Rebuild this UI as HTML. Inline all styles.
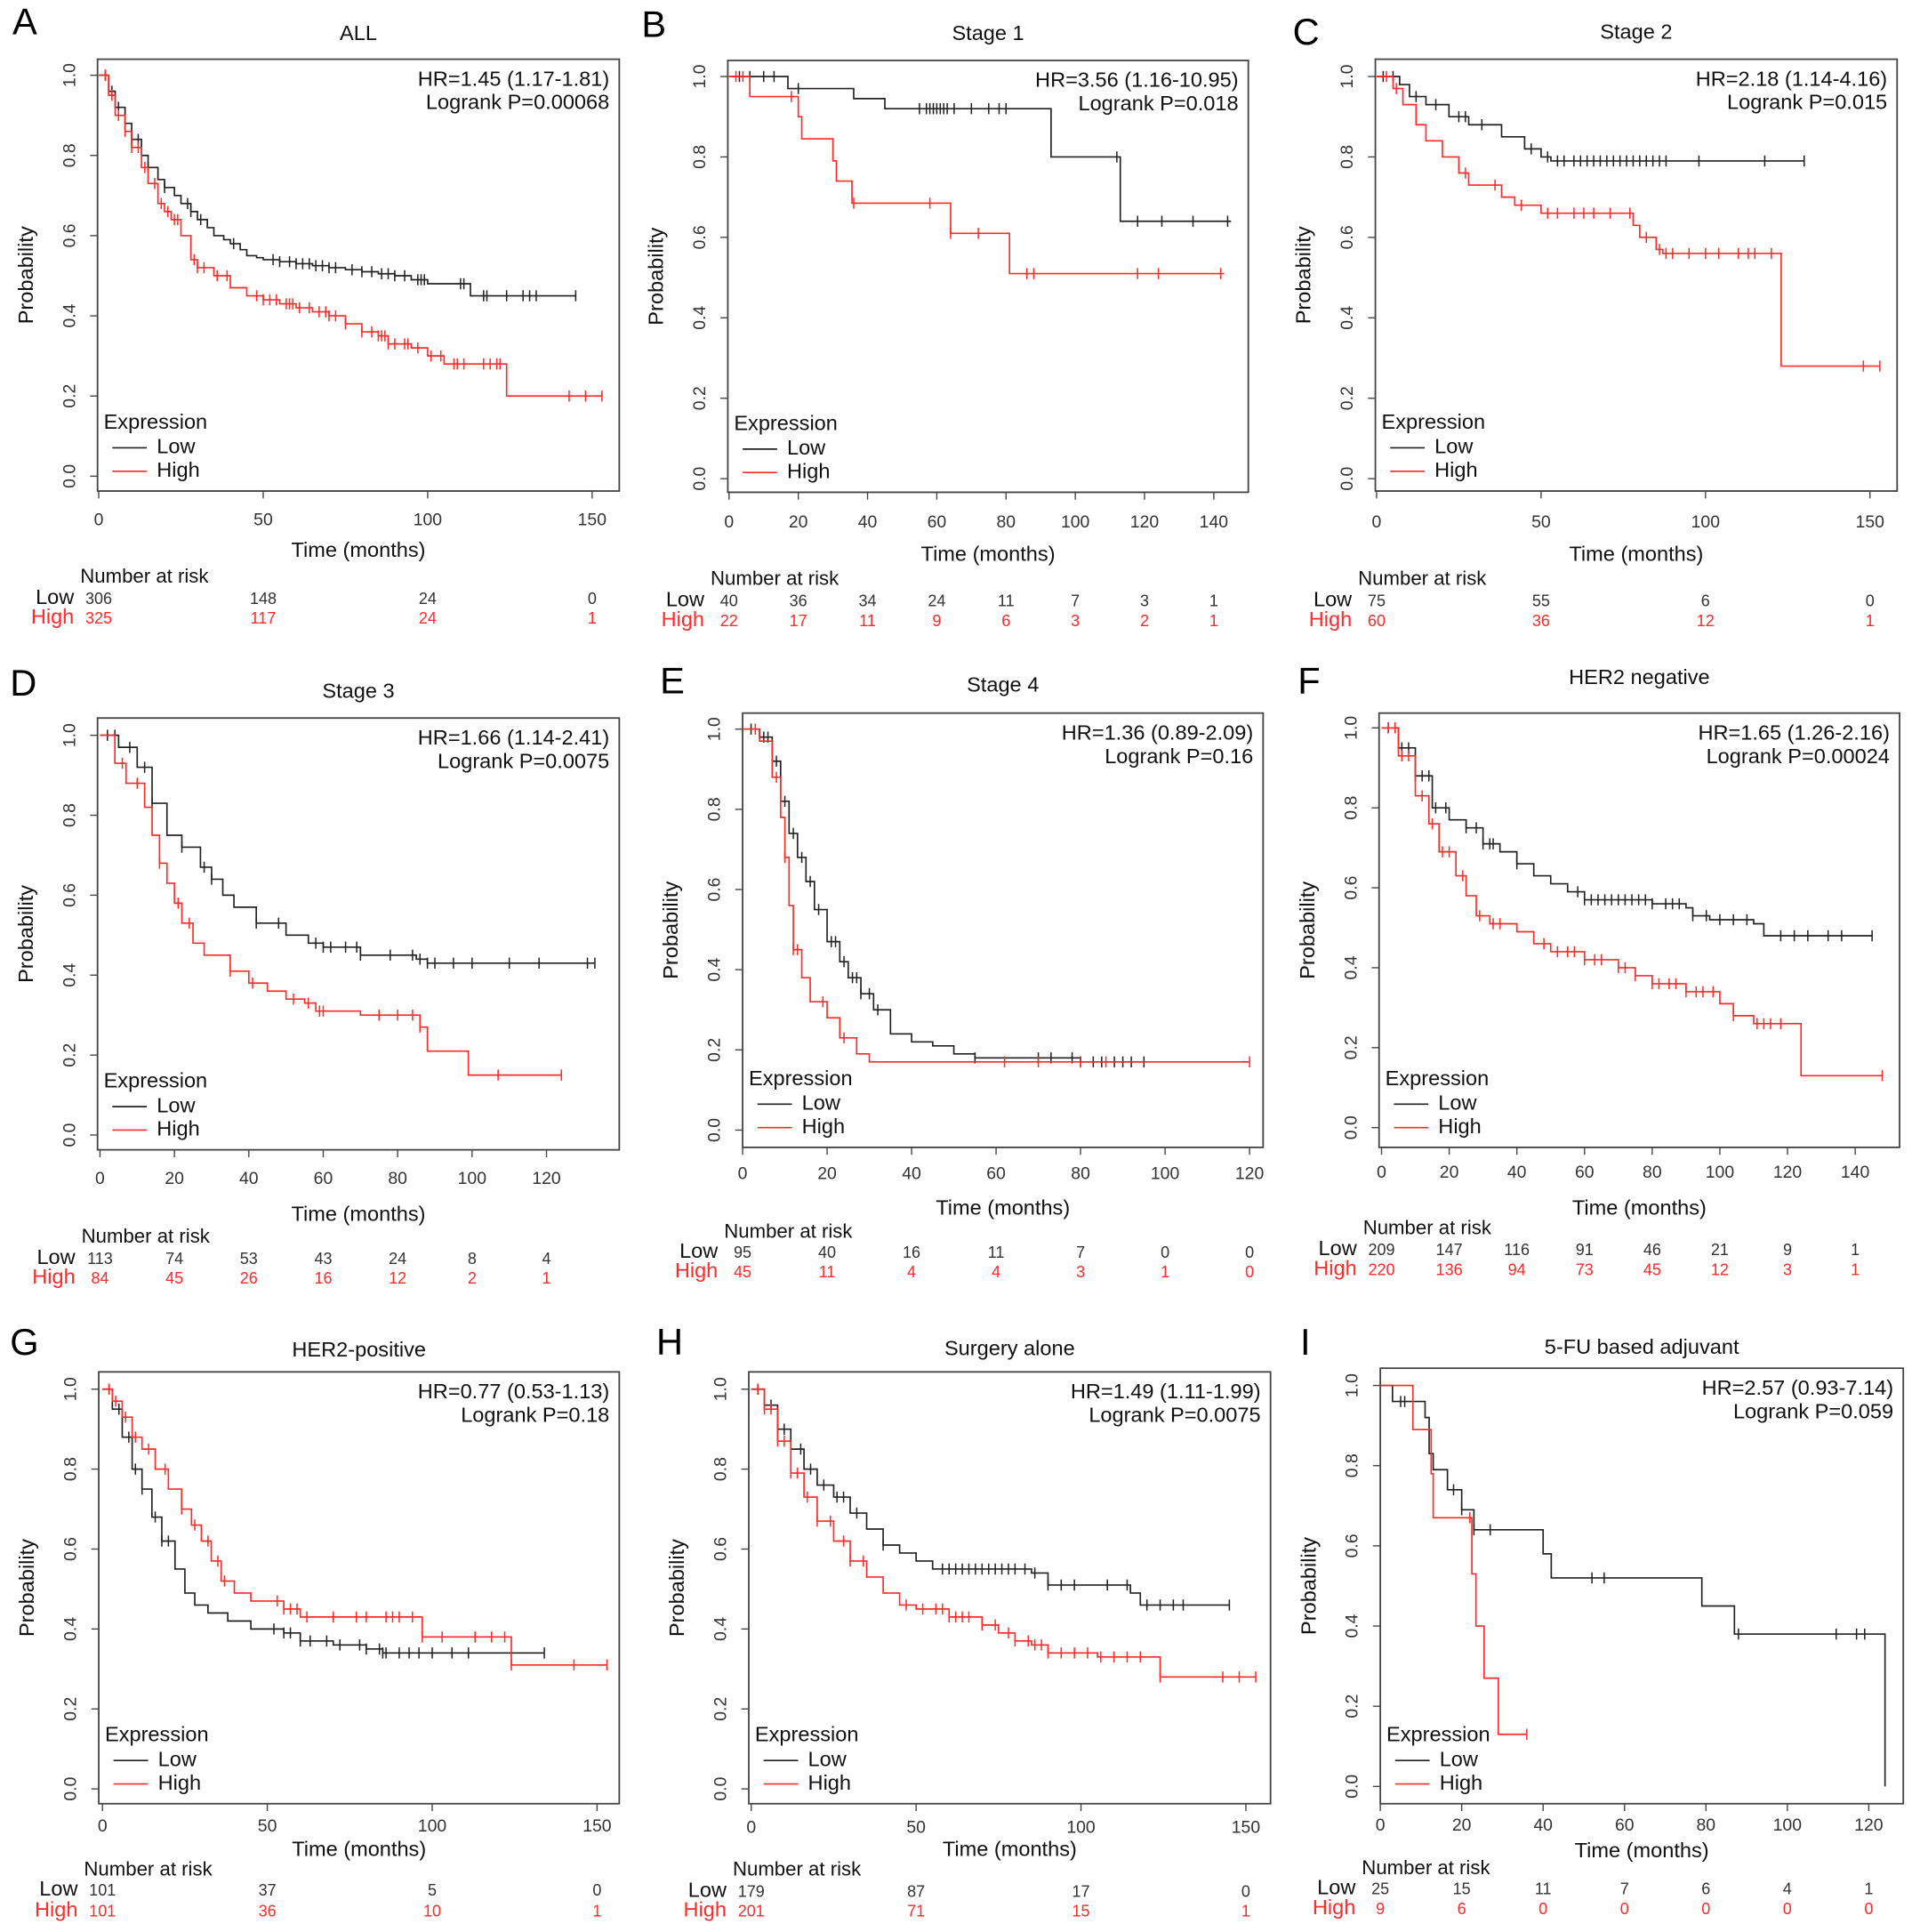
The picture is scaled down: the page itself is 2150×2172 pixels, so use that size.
<!DOCTYPE html>
<html><head><meta charset="utf-8">
<style>
html,body{margin:0;padding:0;background:#fff;}
svg{display:block;font-family:"Liberation Sans",sans-serif;}
</style></head>
<body>
<svg id="fig" xmlns="http://www.w3.org/2000/svg" width="2150" height="2172" viewBox="0 0 1550 1566"></svg>
<script>
// ---------- DATA ----------
const A_low_t=[0,3,5,8,10,13,15,18,20,23,25,28,30,33,35,38,40,43,45,48,50,55,60,65,70,75,80,85,90,95,100,113,145];
const A_low_s=[1,0.96,0.92,0.88,0.84,0.80,0.77,0.74,0.72,0.70,0.68,0.66,0.64,0.62,0.60,0.59,0.58,0.565,0.55,0.545,0.54,0.535,0.53,0.525,0.52,0.515,0.51,0.505,0.50,0.49,0.48,0.45,0.45];
const A_low_c=[2,4,6,8,10,12,15,20,27,28,31,41,53,55,58,60,62,64,66,68,70,72,77,80,83,86,88,90,93,97,98,99,110,111,117,118,124,129,131,133,145];
const A_high_t=[0,3,5,8,10,13,15,18,20,22,25,28,30,35,40,45,50,55,60,65,70,75,80,85,88,95,100,105,124,153];
const A_high_s=[1,0.95,0.90,0.86,0.82,0.77,0.73,0.68,0.66,0.64,0.60,0.54,0.52,0.50,0.47,0.45,0.44,0.43,0.42,0.41,0.40,0.38,0.36,0.35,0.33,0.32,0.30,0.28,0.20,0.20];
const A_high_c=[2,4,6,8,10,12,14,17,19,21,23,24,29,30,32,36,39,48,50,52,54,57,58,59,61,64,67,69,70,72,75,80,83,85,86,87,88,90,93,94,97,101,104,108,109,111,117,119,121,122,143,148,153];

const B_low_t=[0,17,36,45,93,113,145];
const B_low_s=[1,0.97,0.945,0.92,0.80,0.64,0.64];
const B_low_c=[3,6,10,13,20,55,57,58,59,60,61,62,63,65,70,75,78,80,112,118,125,134,144];
const B_high_t=[0,6,20,21,30,31,35.5,64,81,143];
const B_high_s=[1,0.95,0.90,0.845,0.79,0.74,0.685,0.61,0.51,0.51];
const B_high_c=[2,4,18,36,58,64,72,86,88,118,124,142];

const C_low_t=[0,7,10,15,22,28,38,45,50,53,130];
const C_low_s=[1,0.98,0.95,0.93,0.90,0.88,0.85,0.82,0.80,0.79,0.79];
const C_low_c=[2,5,12,18,25,27,32,47,52,55,57,60,62,64,66,68,70,72,74,76,78,80,82,84,86,88,98,118,130];
const C_high_t=[0,5,8,12,15,20,25,28,38,42,50,60,78,80,85,87,123,153];
const C_high_s=[1,0.97,0.93,0.88,0.84,0.80,0.76,0.73,0.70,0.68,0.66,0.66,0.63,0.60,0.57,0.56,0.28,0.28];
const C_high_c=[3,6,27,36,44,52,55,60,63,66,71,77,82,86,88,90,95,100,104,110,113,115,120,148,153];

const D_low_t=[0,5,10,14,18,22,27,30,33,36,42,50,56,60,70,85,88,133];
const D_low_s=[1,0.97,0.92,0.83,0.75,0.72,0.67,0.64,0.60,0.57,0.53,0.50,0.48,0.47,0.45,0.44,0.43,0.43];
const D_low_c=[2,4,8,12,14,22,28,30,42,48,58,60,62,66,69,70,78,84,86,88,90,95,100,110,118,131,133];
const D_high_t=[0,4,7,12,14,16,18,20,22,25,28,35,40,45,50,55,58,70,86,88,99,124];
const D_high_s=[1,0.93,0.88,0.82,0.75,0.68,0.63,0.58,0.53,0.48,0.45,0.41,0.38,0.36,0.34,0.33,0.31,0.30,0.27,0.21,0.15,0.15];
const D_high_c=[6,10,16,21,24,35,41,52,56,59,60,75,80,84,86,107,124];

const E_low_t=[0,4,7,9,11,13,15,17,20,23,25,28,31,35,40,45,50,55,80,95];
const E_low_s=[1,0.98,0.92,0.82,0.74,0.68,0.62,0.55,0.47,0.42,0.38,0.34,0.30,0.24,0.22,0.21,0.19,0.18,0.17,0.17];
const E_low_c=[2,5,6,8,10,12,14,16,18,21,22,24,26,27,28,30,32,55,70,73,78,80,83,85,88,90,92,95];
const E_high_t=[0,4,7,9,10,11,12,14,16,20,23,27,30,120];
const E_high_s=[1,0.97,0.88,0.78,0.68,0.56,0.45,0.38,0.32,0.28,0.23,0.19,0.17,0.17];
const E_high_c=[3,8,10,12,13,19,24,62,70,80,86,120];

const F_low_t=[0,5,10,15,20,25,30,35,40,45,50,55,60,80,90,92,97,110,113,145];
const F_low_s=[1,0.95,0.88,0.80,0.77,0.75,0.71,0.69,0.66,0.63,0.61,0.59,0.57,0.56,0.55,0.53,0.52,0.51,0.48,0.48];
const F_low_c=[2,4,6,8,10,12,14,16,19,25,28,30,32,33,40,58,60,62,64,66,68,70,72,74,76,78,80,84,86,88,92,96,100,104,108,118,122,126,132,136,145];
const F_high_t=[0,5,10,14,17,22,25,28,32,40,45,50,60,70,75,80,90,100,104,110,124,148];
const F_high_s=[1,0.93,0.83,0.76,0.69,0.63,0.58,0.53,0.51,0.49,0.46,0.44,0.42,0.40,0.38,0.36,0.34,0.31,0.28,0.26,0.13,0.13];
const F_high_c=[2,4,6,8,12,15,18,20,24,29,33,35,48,52,55,57,60,63,65,70,72,75,80,82,85,87,90,93,95,98,104,111,113,115,118,148];

const G_low_t=[0,3,6,9,12,15,18,22,25,28,32,38,45,55,60,70,80,85,134];
const G_low_s=[1,0.95,0.88,0.80,0.75,0.68,0.62,0.55,0.49,0.46,0.44,0.42,0.40,0.39,0.37,0.36,0.35,0.34,0.34];
const G_low_c=[2,5,8,10,12,16,18,20,52,55,57,60,63,68,72,78,80,84,85,86,90,93,96,100,106,111,134];
const G_high_t=[0,3,6,9,12,16,20,24,27,30,33,36,40,45,55,60,97,124,153];
const G_high_s=[1,0.97,0.93,0.88,0.85,0.80,0.75,0.70,0.66,0.62,0.57,0.52,0.49,0.47,0.45,0.43,0.38,0.31,0.31];
const G_high_c=[2,4,7,10,14,19,24,28,32,35,37,53,55,57,59,62,70,77,80,86,88,90,94,97,103,113,118,122,124,143,153];

const H_low_t=[0,4,8,12,16,20,25,30,35,40,45,50,55,85,90,115,118,145];
const H_low_s=[1,0.96,0.90,0.85,0.80,0.76,0.73,0.69,0.65,0.61,0.59,0.57,0.55,0.54,0.51,0.49,0.46,0.46];
const H_low_c=[2,4,6,8,10,12,15,18,22,26,28,32,40,58,60,62,64,66,68,70,72,74,76,78,80,83,86,90,94,98,108,114,120,124,128,131,145];
const H_high_t=[0,4,8,12,16,20,25,30,35,40,45,50,60,70,75,80,85,90,105,124,153];
const H_high_s=[1,0.95,0.87,0.79,0.73,0.67,0.62,0.57,0.53,0.49,0.46,0.45,0.43,0.41,0.39,0.37,0.36,0.34,0.33,0.28,0.28];
const H_high_c=[2,4,6,8,10,12,14,17,20,24,28,30,34,47,52,56,58,60,62,64,66,70,74,78,80,84,86,88,90,94,98,102,106,110,114,118,124,143,148,153];

const I_low_t=[0,3,11,12,13,16.5,20,23,40,42,79,87,124];
const I_low_s=[1,0.96,0.92,0.83,0.79,0.74,0.69,0.64,0.58,0.52,0.45,0.38,0];
const I_low_c=[5,6,18,20,23,27,52,55,88,112,117,119];
const I_high_t=[0,8,12.5,13,22.5,23.5,25.5,29,36];
const I_high_s=[1,0.89,0.78,0.67,0.53,0.40,0.27,0.13,0.13];
const I_high_c=[22,36];

const A_ticks=[0,50,100,150], A_rlow=[306,148,24,0], A_rhigh=[325,117,24,1];
const B_ticks=[0,20,40,60,80,100,120,140], B_rlow=[40,36,34,24,11,7,3,1], B_rhigh=[22,17,11,9,6,3,2,1];
const C_ticks=[0,50,100,150], C_rlow=[75,55,6,0], C_rhigh=[60,36,12,1];
const D_ticks=[0,20,40,60,80,100,120], D_rlow=[113,74,53,43,24,8,4], D_rhigh=[84,45,26,16,12,2,1];
const E_ticks=[0,20,40,60,80,100,120], E_rlow=[95,40,16,11,7,0,0], E_rhigh=[45,11,4,4,3,1,0];
const F_ticks=[0,20,40,60,80,100,120,140], F_rlow=[209,147,116,91,46,21,9,1], F_rhigh=[220,136,94,73,45,12,3,1];
const G_ticks=[0,50,100,150], G_rlow=[101,37,5,0], G_rhigh=[101,36,10,1];
const H_ticks=[0,50,100,150], H_rlow=[179,87,17,0], H_rhigh=[201,71,15,1];
const I_ticks=[0,20,40,60,80,100,120], I_rlow=[25,15,11,7,6,4,1], I_rhigh=[9,6,0,0,0,0,0];
const yTicks=[0,0.2,0.4,0.6,0.8,1.0];

// ---------- LAYOUT ----------
const panels=[
 {id:'A',title:'ALL',hr:'HR=1.45 (1.17-1.81)',p:'Logrank P=0.00068',box:[79,48,502,398],x0:80,xs:400/150,y1:61,y0:386,tk:A_ticks,rl:A_rlow,rh:A_rhigh,lt:A_low_t,ls:A_low_s,lc:A_low_c,ht:A_high_t,hs:A_high_s,hc:A_high_c,ty:[422,447,468,486,502],lx:10,ly:20,tty:28},
 {id:'B',title:'Stage 1',hr:'HR=3.56 (1.16-10.95)',p:'Logrank P=0.018',box:[590,49,1012,399],x0:591,xs:393/140,y1:62,y0:388,tk:B_ticks,rl:B_rlow,rh:B_rhigh,lt:B_low_t,ls:B_low_s,lc:B_low_c,ht:B_high_t,hs:B_high_s,hc:B_high_c,ty:[424,450,470,488,504],lx:520,ly:22,tty:28},
 {id:'C',title:'Stage 2',hr:'HR=2.18 (1.14-4.16)',p:'Logrank P=0.015',box:[1115,48,1538,398],x0:1116,xs:400/150,y1:62,y0:388,tk:C_ticks,rl:C_rlow,rh:C_rhigh,lt:C_low_t,ls:C_low_s,lc:C_low_c,ht:C_high_t,hs:C_high_s,hc:C_high_c,ty:[424,450,470,488,504],lx:1048,ly:28,tty:27},
 {id:'D',title:'Stage 3',hr:'HR=1.66 (1.14-2.41)',p:'Logrank P=0.0075',box:[79,582,502,932],x0:81,xs:362/120,y1:596,y0:920,tk:D_ticks,rl:D_rlow,rh:D_rhigh,lt:D_low_t,ls:D_low_s,lc:D_low_c,ht:D_high_t,hs:D_high_s,hc:D_high_c,ty:[956,985,1003,1021,1037],lx:8,ly:556,tty:561},
 {id:'E',title:'Stage 4',hr:'HR=1.36 (0.89-2.09)',p:'Logrank P=0.16',box:[602,578,1024,930],x0:602,xs:411/120,y1:591,y0:916,tk:E_ticks,rl:E_rlow,rh:E_rhigh,lt:E_low_t,ls:E_low_s,lc:E_low_c,ht:E_high_t,hs:E_high_s,hc:E_high_c,ty:[952,980,999,1016,1032],lx:535,ly:554,tty:556},
 {id:'F',title:'HER2 negative',hr:'HR=1.65 (1.26-2.16)',p:'Logrank P=0.00024',box:[1118,578,1540,930],x0:1120,xs:384/140,y1:590,y0:914,tk:F_ticks,rl:F_rlow,rh:F_rhigh,lt:F_low_t,ls:F_low_s,lc:F_low_c,ht:F_high_t,hs:F_high_s,hc:F_high_c,ty:[951,980,996,1014,1030],lx:1052,ly:554,tty:550},
 {id:'G',title:'HER2-positive',hr:'HR=0.77 (0.53-1.13)',p:'Logrank P=0.18',box:[80,1112,502,1462],x0:83,xs:401/150,y1:1126,y0:1450,tk:G_ticks,rl:G_rlow,rh:G_rhigh,lt:G_low_t,ls:G_low_s,lc:G_low_c,ht:G_high_t,hs:G_high_s,hc:G_high_c,ty:[1481,1500,1516,1533,1550],lx:8,ly:1090,tty:1095},
 {id:'H',title:'Surgery alone',hr:'HR=1.49 (1.11-1.99)',p:'Logrank P=0.0075',box:[607,1112,1030,1462],x0:609,xs:401/150,y1:1126,y0:1450,tk:H_ticks,rl:H_rlow,rh:H_rhigh,lt:H_low_t,ls:H_low_s,lc:H_low_c,ht:H_high_t,hs:H_high_s,hc:H_high_c,ty:[1482,1500,1516,1534,1550],lx:532,ly:1090,tty:1094},
 {id:'I',title:'5-FU based adjuvant',hr:'HR=2.57 (0.93-7.14)',p:'Logrank P=0.059',box:[1119,1109,1543,1462],x0:1119,xs:396/120,y1:1123,y0:1448,tk:I_ticks,rl:I_rlow,rh:I_rhigh,lt:I_low_t,ls:I_low_s,lc:I_low_c,ht:I_high_t,hs:I_high_s,hc:I_high_c,ty:[1480,1501,1515,1532,1548],lx:1054,ly:1090,tty:1093}
];
const NS='http://www.w3.org/2000/svg';
const svg=document.getElementById('fig');
const BLACK='#222', RED='#ff2a2a';
function mk(tag,attrs,parent,txt){const e=document.createElementNS(NS,tag);for(const k in attrs)e.setAttribute(k,attrs[k]);if(txt!==undefined)e.textContent=txt;parent.appendChild(e);return e;}
function survAt(T,S,t){let v=S[0];for(let i=0;i<T.length;i++){if(T[i]<=t)v=S[i];else break;}return v;}

panels.forEach(P=>{
  const g=mk('g',{},svg);
  
  
  const X=t=>P.x0+t*P.xs;
  const Y=s=>P.y0-(P.y0-P.y1)*s;
  const [bx1,by1,bx2,by2]=P.box;
  const lab=mk('text',{x:P.lx,y:P.ly,'font-size':30,'dominant-baseline':'middle',fill:'#000'},g,P.id);
  
  const tt=mk('text',{x:(bx1+bx2)/2,y:P.tty,'font-size':17,'text-anchor':'middle','dominant-baseline':'middle',fill:'#111'},g,P.title);
  
  const fr=mk('rect',{x:bx1,y:by1,width:bx2-bx1,height:by2-by1,fill:'none',stroke:'#444','stroke-width':1.3},g);
  
  // y axis
  yTicks.forEach(v=>{
    mk('line',{x1:bx1,x2:bx1-6,y1:Y(v),y2:Y(v),stroke:'#444','stroke-width':1},g);
    const t=mk('text',{x:bx1-22,y:Y(v),'font-size':14,'text-anchor':'middle','dominant-baseline':'middle',fill:'#333',transform:`rotate(-90 ${bx1-22} ${Y(v)})`},g,v.toFixed(1));
    
  });
  const yl=mk('text',{x:bx1-57,y:(by1+by2)/2,'font-size':17,'text-anchor':'middle','dominant-baseline':'middle',fill:'#111',transform:`rotate(-90 ${bx1-57} ${(by1+by2)/2})`},g,'Probability');
  
  // x axis
  P.tk.forEach((v,i)=>{
    mk('line',{x1:X(v),x2:X(v),y1:by2,y2:by2+6,stroke:'#444','stroke-width':1},g);
    const t=mk('text',{x:X(v),y:P.ty[0],'font-size':14,'text-anchor':'middle','dominant-baseline':'middle',fill:'#333'},g,String(v));
    
    const rl=mk('text',{x:X(v),y:P.ty[3],'font-size':13,'text-anchor':'middle','dominant-baseline':'middle',fill:'#333'},g,String(P.rl[i]));
    
    const rh=mk('text',{x:X(v),y:P.ty[4],'font-size':13,'text-anchor':'middle','dominant-baseline':'middle',fill:RED},g,String(P.rh[i]));
    
  });
  mk('line',{x1:X(P.tk[0]),x2:X(P.tk[P.tk.length-1]),y1:by2,y2:by2,stroke:'#444','stroke-width':1},g);
  const xl=mk('text',{x:(bx1+bx2)/2,y:P.ty[1],'font-size':17,'text-anchor':'middle','dominant-baseline':'middle',fill:'#111'},g,'Time (months)');
  
  const nr=mk('text',{x:P.x0-15,y:P.ty[2],'font-size':16,'dominant-baseline':'middle',fill:'#111'},g,'Number at risk');
  
  const lw=mk('text',{x:P.x0-20,y:P.ty[3]-1,'font-size':17,'text-anchor':'end','dominant-baseline':'middle',fill:'#111'},g,'Low');
  
  const hg=mk('text',{x:P.x0-20,y:P.ty[4]-1,'font-size':17,'text-anchor':'end','dominant-baseline':'middle',fill:RED},g,'High');
  
  // HR text
  const h1=mk('text',{x:bx2-8,y:by1+17,'font-size':17,'text-anchor':'end','dominant-baseline':'middle',fill:'#111'},g,P.hr);
  
  const h2=mk('text',{x:bx2-8,y:by1+36,'font-size':17,'text-anchor':'end','dominant-baseline':'middle',fill:'#111'},g,P.p);
  
  // curves
  [[P.lt,P.ls,P.lc,BLACK,'low'],[P.ht,P.hs,P.hc,RED,'high']].forEach(([T,S,C,col,nm])=>{
    let d=`M${X(T[0])},${Y(S[0])}`;
    for(let i=1;i<T.length;i++){d+=` H${X(T[i])} V${Y(S[i])}`;}
    const pth=mk('path',{d:d,fill:'none',stroke:col,'stroke-width':1.2},g);
    
    C.forEach(c=>{
      const cx=X(c),cy=Y(survAt(T,S,c));
      const cm=mk('path',{d:`M${cx},${cy-4.5}V${cy+4.5}`,stroke:col,'stroke-width':1.1},g);
      
    });
  });
  // legend
  const lg=mk('g',{},g);
  
  mk('text',{x:bx1+5,y:by2-55,'font-size':17,'dominant-baseline':'middle',fill:'#111'},lg,'Expression');
  mk('line',{x1:bx1+12,x2:bx1+40,y1:by2-35,y2:by2-35,stroke:BLACK,'stroke-width':1.2},lg);
  mk('text',{x:bx1+48,y:by2-35,'font-size':17,'dominant-baseline':'middle',fill:'#111'},lg,'Low');
  mk('line',{x1:bx1+12,x2:bx1+40,y1:by2-16,y2:by2-16,stroke:RED,'stroke-width':1.2},lg);
  mk('text',{x:bx1+48,y:by2-16,'font-size':17,'dominant-baseline':'middle',fill:'#111'},lg,'High');
});
</script>
</body></html>
